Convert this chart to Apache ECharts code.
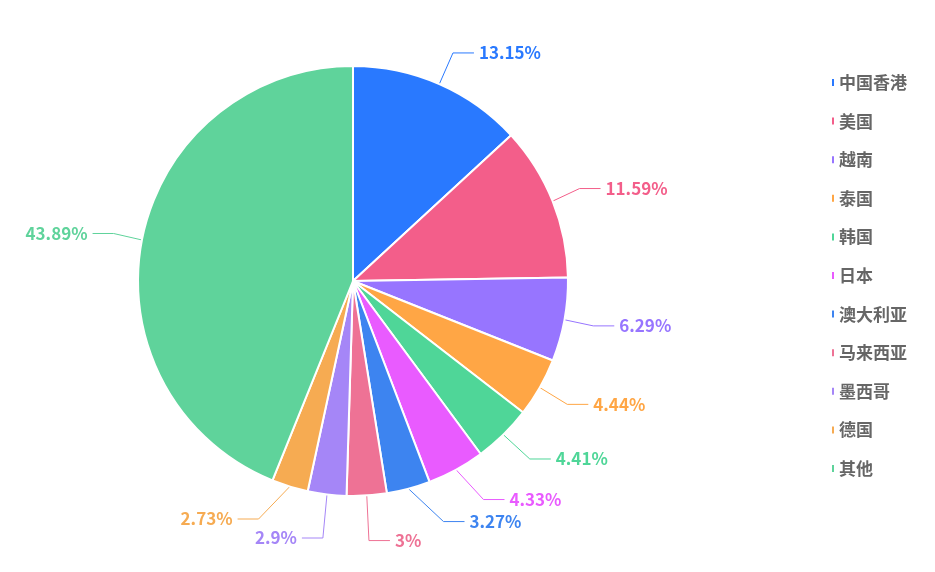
<!DOCTYPE html>
<html>
<head>
<meta charset="utf-8">
<script src="https://cdn.jsdelivr.net/npm/echarts@6/dist/echarts.min.js"></script>
<style>
  html, body { margin: 0; padding: 0; background: #fff; }
  #chart { width: 935px; height: 572px; }
</style>
</head>
<body>
<div id="chart"></div>
<script>
// 地区
const regions = ["中国香港", "美国", "越南", "泰国", "韩国", "日本", "澳大利亚", "马来西亚", "墨西哥", "德国", "其他"];
// 占比 (%)
const shares = [13.15, 11.59, 6.29, 4.44, 4.41, 4.33, 3.27, 3, 2.9, 2.73, 43.89];
const colors = ["#2979ff", "#f35e8a", "#9775ff", "#ffa645", "#4fd698", "#e95bff",
  "#3d84f0", "#ee7295", "#a586f7", "#f6ab52", "#5fd39b"];

const myChart = echarts.init(document.getElementById("chart"));
const option = {
  color: colors,
  legend: {
    orient: "vertical",
    left: 830,
    top: 74,
    padding: 0,
    icon: "rect",
    itemWidth: 4,
    itemHeight: 9,
    itemGap: 21.6,
    data: regions,
    textStyle: {
      color: "#666",
      fontSize: 17,
      fontWeight: "bold",
      fontFamily: "Noto Sans CJK SC",
      padding: [0, 0, 0, -1]
    }
  },
  series: [
    {
      type: "pie",
      center: [353, 281],
      radius: [0, 215],
      startAngle: 90,
      avoidLabelOverlap: true,
      itemStyle: { borderColor: "#fff", borderWidth: 2 },
      label: {
        formatter: "{c}%",
        fontSize: 17,
        fontWeight: "bold",
        fontFamily: "Noto Sans CJK SC",
        color: "inherit"
      },
      labelLine: { length: 34, length2: 21 },
      emphasis: { disabled: true },
      data: regions.map((name, i) => ({ name, value: shares[i] }))
    }
  ]
};
myChart.setOption(option);
</script>
</body>
</html>
